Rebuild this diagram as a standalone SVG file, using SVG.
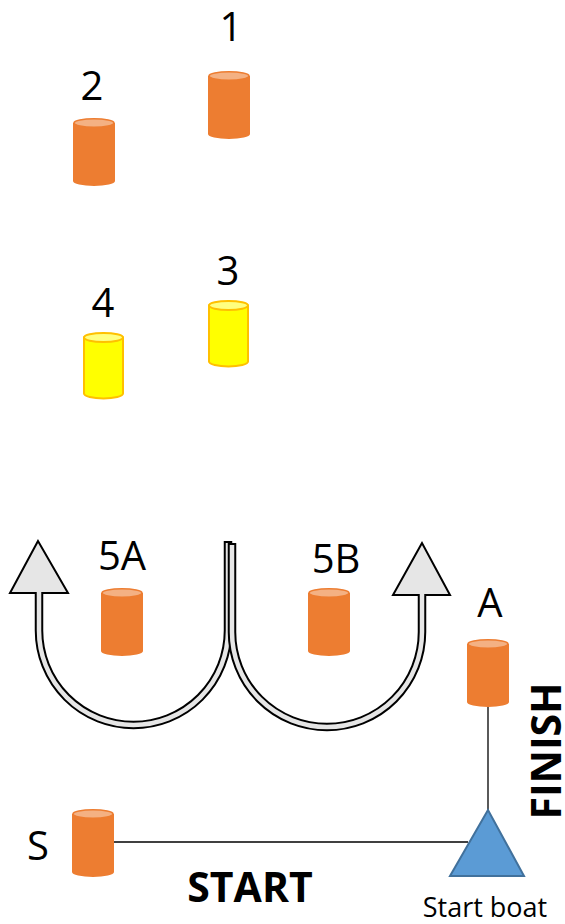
<svg xmlns="http://www.w3.org/2000/svg" xmlns:xlink="http://www.w3.org/1999/xlink" width="565" height="924" viewBox="0 0 565 924">
<style>
.lbl{font-family:"Open Sans","Liberation Sans",sans-serif;font-size:40px;fill:#000;text-anchor:middle}
.bold{font-weight:bold;font-size:41px}
.small{font-size:27px}
.line{stroke:#000;stroke-width:1.3;fill:none}
.shaft-out{stroke:#000;stroke-width:8.5;fill:none}
.shaft-in{stroke:#e6e6e6;stroke-width:4.5;fill:none}
.head{fill:#e6e6e6;stroke:#000;stroke-width:2;stroke-linejoin:miter}
</style>
<defs>
<g id="can-o">
<path d="M0 5 L0 63 A21 5 0 0 0 42 63 L42 5 Z" fill="#ED7D31"/>
<ellipse cx="21" cy="5" rx="20" ry="4.2" fill="#F4B183" stroke="#ED7D31" stroke-width="1.6"/>
</g>
<g id="can-y">
<path d="M1 5.5 L1 61.5 A19.5 5 0 0 0 40 61.5 L40 5.5 Z" fill="#FFFF00" stroke="#FFC000" stroke-width="2"/>
<ellipse cx="20.5" cy="5.5" rx="19.5" ry="4.5" fill="#FFFF80" stroke="#FFC000" stroke-width="2"/>
</g>
</defs>
<g id="connectors">
<line class="line" x1="113" y1="842" x2="468" y2="842"/>
<line class="line" x1="488" y1="706" x2="488" y2="810"/>
</g>
<g id="arrow-5A">
<polygon class="head" points="38,541 10,593 68,593"/>
<path class="shaft-out" d="M228 541 L228 630.5 A94.5 94.5 0 0 1 39 630.5 L39 593"/>
<path class="shaft-in" d="M228 543 L228 630.5 A94.5 94.5 0 0 1 39 630.5 L39 590"/>
</g>
<g id="arrow-5B">
<polygon class="head" points="422,543 393,595 450,595"/>
<path class="shaft-out" d="M232 543 L232 632 A95 95 0 0 0 422 632 L422 595"/>
<path class="shaft-in" d="M232 545 L232 632 A95 95 0 0 0 422 632 L422 592"/>
</g>
<g id="mark-1"><use xlink:href="#can-o" x="208" y="71"/><text class="lbl" x="231" y="41">1</text></g>
<g id="mark-2"><use xlink:href="#can-o" x="73" y="118"/><text class="lbl" x="92" y="100">2</text></g>
<g id="mark-3"><use xlink:href="#can-y" x="208" y="300"/><text class="lbl" x="228" y="285">3</text></g>
<g id="mark-4"><use xlink:href="#can-y" x="83" y="332"/><text class="lbl" x="103" y="317">4</text></g>
<g id="mark-5A"><use xlink:href="#can-o" x="101" y="588"/><text class="lbl" x="122" y="570">5A</text></g>
<g id="mark-5B"><use xlink:href="#can-o" x="308" y="588"/><text class="lbl" x="336" y="573">5B</text></g>
<g id="mark-A"><use xlink:href="#can-o" x="467" y="639"/><text class="lbl" x="490" y="617">A</text></g>
<g id="mark-S"><use xlink:href="#can-o" x="72" y="809"/><text class="lbl" x="38" y="860">S</text></g>
<g id="start-boat">
<polygon points="488,810 450,876 524,876" fill="#5B9BD5" stroke="#41719C" stroke-width="2"/>
<text class="lbl small" x="485" y="917">Start boat</text>
</g>
<text class="lbl bold" x="250" y="902">START</text>
<text class="lbl bold" transform="translate(561,751) rotate(-90)" x="0" y="0">FINISH</text>
</svg>
